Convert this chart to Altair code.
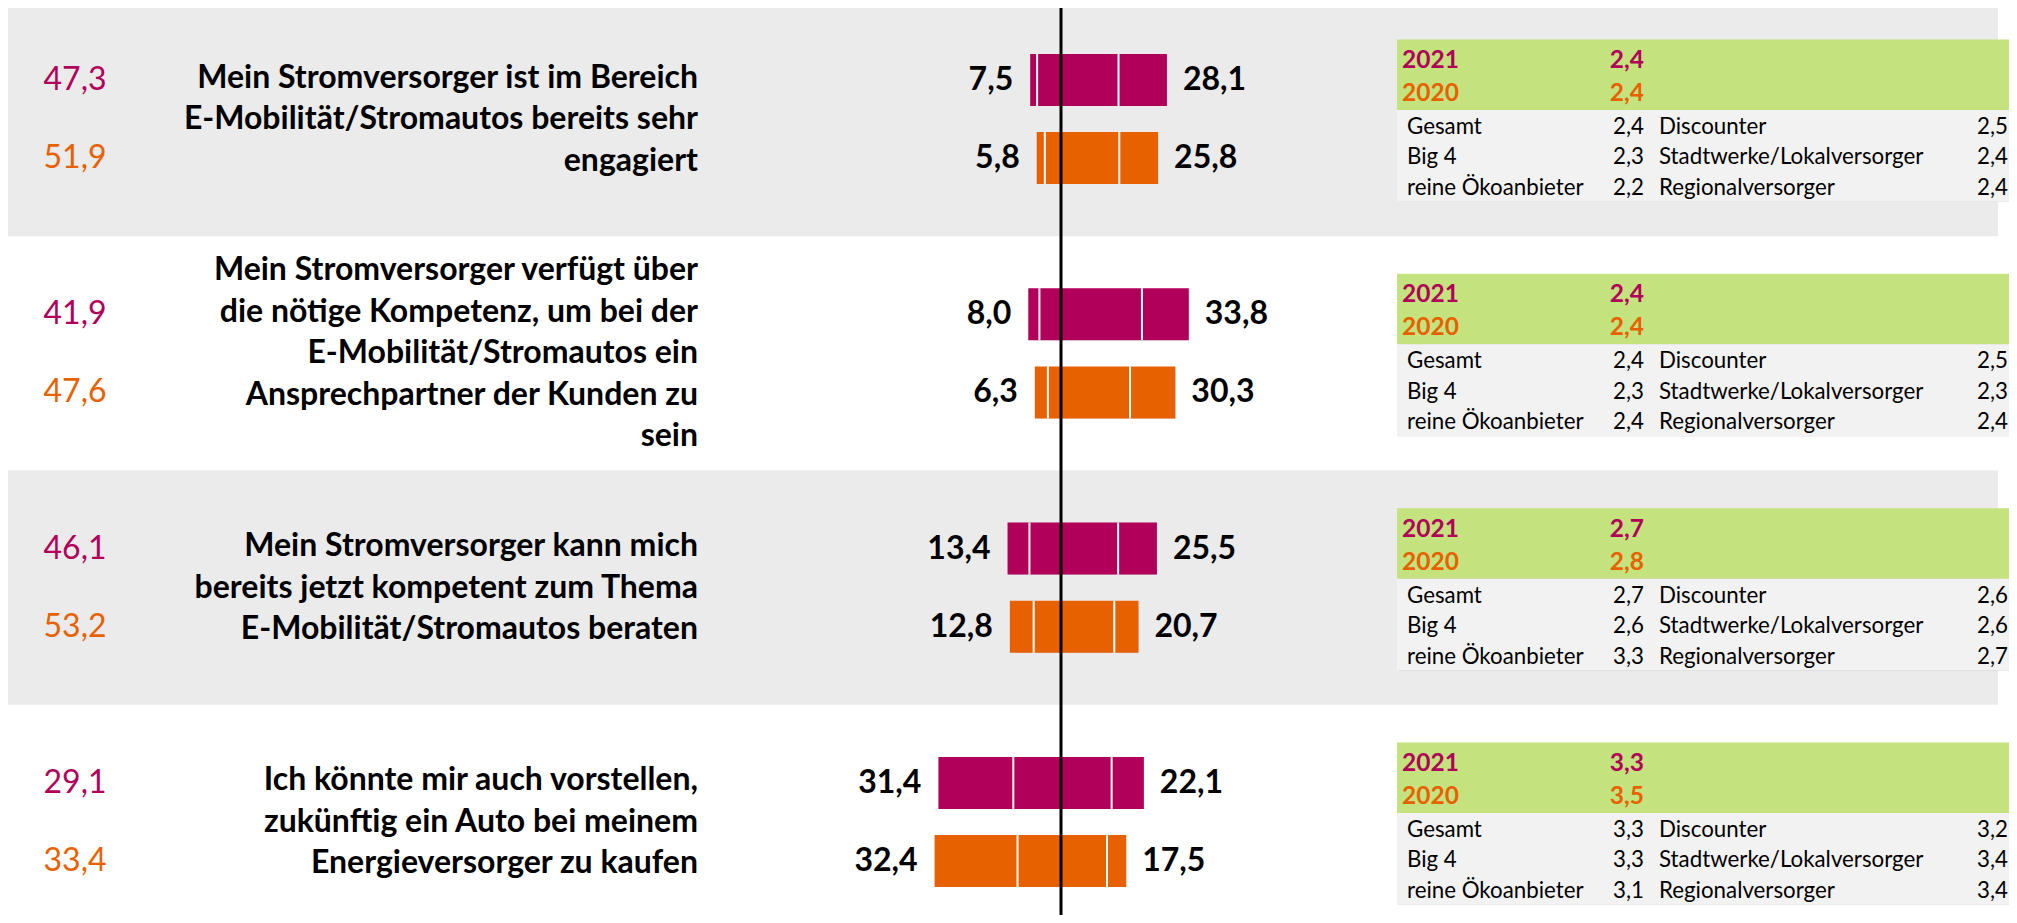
import altair as alt
import pandas as pd

# ---------------- data ----------------
statements = [
    "Mein Stromversorger ist im Bereich\nE-Mobilität/Stromautos bereits sehr\nengagiert",
    "Mein Stromversorger verfügt über\ndie nötige Kompetenz, um bei der\nE-Mobilität/Stromautos ein\nAnsprechpartner der Kunden zu\nsein",
    "Mein Stromversorger kann mich\nbereits jetzt kompetent zum Thema\nE-Mobilität/Stromautos beraten",
    "Ich könnte mir auch vorstellen,\nzukünftig ein Auto bei meinem\nEnergieversorger zu kaufen",
]
years = ["2021", "2020"]
neutral_2021 = [47.3, 41.9, 46.1, 29.1]
neutral_2020 = [51.9, 47.6, 53.2, 33.4]
disagree_2021 = [7.5, 8.0, 13.4, 31.4]
disagree_2020 = [5.8, 6.3, 12.8, 32.4]
agree_2021 = [28.1, 33.8, 25.5, 22.1]
agree_2020 = [25.8, 30.3, 20.7, 17.5]
# outer part of the disagree side / inner part of the agree side
disagree_outer_2021 = [1.8, 2.9, 5.7, 19.5]
disagree_outer_2020 = [2.1, 3.4, 6.2, 21.6]
agree_inner_2021 = [15.5, 21.6, 15.4, 13.7]
agree_inner_2020 = [15.7, 18.5, 14.4, 12.5]
mean_2021 = [2.4, 2.4, 2.7, 3.3]
mean_2020 = [2.4, 2.4, 2.8, 3.5]
groups_left = ["Gesamt", "Big 4", "reine Ökoanbieter"]
groups_right = ["Discounter", "Stadtwerke/Lokalversorger", "Regionalversorger"]
group_means_left = [[2.4, 2.3, 2.2], [2.4, 2.3, 2.4], [2.7, 2.6, 3.3], [3.3, 3.3, 3.1]]
group_means_right = [[2.5, 2.4, 2.4], [2.5, 2.3, 2.4], [2.6, 2.6, 2.7], [3.2, 3.4, 3.4]]

MAGENTA = "#B0005A"
ORANGE = "#E86100"
GREEN = "#C4E37E"
BAND = "#EBEBEB"
TABLE = "#F2F2F2"
FONT = "Lato"


def de(v):
    return f"{v:.1f}".replace(".", ",")


# ---------------- tables ----------------
rows = []
for r in range(4):
    for j, y in enumerate(years):
        neu = [neutral_2021, neutral_2020][j][r]
        dis = [disagree_2021, disagree_2020][j][r]
        agr = [agree_2021, agree_2020][j][r]
        dout = [disagree_outer_2021, disagree_outer_2020][j][r]
        ain = [agree_inner_2021, agree_inner_2020][j][r]
        rows.append(dict(r=r, j=j, year=y, slot=3 * r + j,
                         left=-dis, right=agr, sepL=-(dis - dout), sepR=ain,
                         left_lbl=de(dis), right_lbl=de(agr), neu_lbl=de(neu),
                         mean_lbl=de([mean_2021, mean_2020][j][r])))
bars = pd.DataFrame(rows)

seps = pd.concat([
    bars[["slot", "sepL"]].rename(columns={"sepL": "sep"}),
    bars[["slot", "sepR"]].rename(columns={"sepR": "sep"}),
], ignore_index=True)

stm = pd.DataFrame({"r": list(range(4)), "text": statements,
                    "n": [s.count("\n") + 1 for s in statements]})
bands = pd.DataFrame({"r": [0, 2]})
tables = pd.DataFrame({"r": list(range(4))})
zero_df = pd.DataFrame({"z": [0.0]})
grp_rows = []
for r in range(4):
    for i in range(3):
        grp_rows.append(dict(r=r, i=i, gl=groups_left[i], vl=de(group_means_left[r][i]),
                             gr=groups_right[i], vr=de(group_means_right[r][i])))
grp = pd.DataFrame(grp_rows)

# ---------------- scales ----------------
W, H = 2001, 907
PX = 3.84          # pixels per percentage point
ZERO = 1051        # pixel of the zero point
SLOT = 78.1        # pixels per bar slot
Y0 = 72            # pixel of slot 0
LH = 41.5          # statement line height

xs = alt.Scale(domain=[-ZERO / PX, (W - ZERO) / PX], nice=False, zero=False)
ys = alt.Scale(domain=[-Y0 / SLOT, (H - Y0) / SLOT], nice=False, zero=False, reverse=True)
col = alt.Scale(domain=years, range=[MAGENTA, ORANGE])


def X(f):
    return alt.X(f, type="quantitative", scale=xs, axis=None)


def Y(f):
    return alt.Y(f, type="quantitative", scale=ys, axis=None)


C = alt.Color("year:N", scale=col, legend=None)

band_layer = alt.Chart(bands).transform_calculate(
    y1="3*datum.r-1", y2="3*datum.r+2"
).mark_rect(color=BAND).encode(
    x=alt.value(0), x2=alt.value(1990), y=Y("y1:Q"), y2="y2:Q")

bar_base = alt.Chart(bars).transform_calculate(
    y1="datum.slot-0.333", y2="datum.slot+0.333")
shadow1 = bar_base.mark_rect(color="#000", opacity=0.09, xOffset=5, yOffset=6).encode(
    x=X("left:Q"), x2="right:Q", y=Y("y1:Q"), y2="y2:Q")
shadow2 = bar_base.mark_rect(color="#000", opacity=0.10, xOffset=3, yOffset=4).encode(
    x=X("left:Q"), x2="right:Q", y=Y("y1:Q"), y2="y2:Q")
bar_layer = bar_base.mark_rect().encode(
    x=X("left:Q"), x2="right:Q", y=Y("y1:Q"), y2="y2:Q", color=C)
sep_layer = alt.Chart(seps).transform_calculate(
    y1="datum.slot-0.333", y2="datum.slot+0.333"
).mark_rule(color="white", strokeWidth=2).encode(
    x=X("sep:Q"), y=Y("y1:Q"), y2="y2:Q")

zero_line = alt.Chart(zero_df).mark_rule(color="black", strokeWidth=3, xOffset=2).encode(
    x=X("z:Q"), y=alt.value(0), y2=alt.value(H))

lbl_left = alt.Chart(bars).mark_text(
    align="right", baseline="middle", dx=-17, fontSize=32, fontWeight="bold", font=FONT, color="black"
).encode(x=X("left:Q"), y=Y("slot:Q"), text="left_lbl:N")
lbl_right = alt.Chart(bars).mark_text(
    align="left", baseline="middle", dx=16, fontSize=32, fontWeight="bold", font=FONT, color="black"
).encode(x=X("right:Q"), y=Y("slot:Q"), text="right_lbl:N")

neu_layer = alt.Chart(bars).mark_text(
    align="center", baseline="middle", fontSize=32, font=FONT
).encode(x=alt.value(67), y=Y("slot:Q"), text="neu_lbl:N", color=C)

stm_layer = alt.Chart(stm).transform_calculate(
    first=f"3*datum.r+0.5-(datum.n-1)/2*{LH / SLOT}"
).mark_text(
    align="right", baseline="middle", fontSize=32, fontWeight="bold", font=FONT,
    color="black", lineBreak="\n", lineHeight=LH
).encode(x=alt.value(690), y=Y("first:Q"), text="text:N")

tab_base = alt.Chart(tables).transform_calculate(
    t="3*datum.r-0.518", g="3*datum.r+0.385", b="3*datum.r+1.56")
tab_shadow1 = tab_base.mark_rect(color="#000", opacity=0.10, yOffset=6, xOffset=2).encode(
    x=alt.value(1389), x2=alt.value(2001), y=Y("t:Q"), y2="b:Q")
tab_shadow2 = tab_base.mark_rect(color="#000", opacity=0.12, yOffset=3, xOffset=1).encode(
    x=alt.value(1389), x2=alt.value(2001), y=Y("t:Q"), y2="b:Q")
tab_green = tab_base.mark_rect(color=GREEN).encode(
    x=alt.value(1389), x2=alt.value(2001), y=Y("t:Q"), y2="g:Q")
tab_light = tab_base.mark_rect(color=TABLE).encode(
    x=alt.value(1389), x2=alt.value(2001), y=Y("g:Q"), y2="b:Q")

yr_base = alt.Chart(bars).transform_calculate(ty="3*datum.r-0.243+0.422*datum.j")
yr_lbl = yr_base.mark_text(align="left", baseline="middle", fontSize=24.5, fontWeight="bold", font=FONT).encode(
    x=alt.value(1394), y=Y("ty:Q"), text="year:N", color=C)
yr_val = yr_base.mark_text(align="right", baseline="middle", fontSize=24.5, fontWeight="bold", font=FONT).encode(
    x=alt.value(1636), y=Y("ty:Q"), text="mean_lbl:N", color=C)

g_base = alt.Chart(grp).transform_calculate(ty="3*datum.r+0.602+0.39*datum.i")
g_tx = dict(baseline="middle", fontSize=22.3, font=FONT, color="black")
g1 = g_base.mark_text(align="left", **g_tx).encode(x=alt.value(1399), y=Y("ty:Q"), text="gl:N")
g2 = g_base.mark_text(align="right", **g_tx).encode(x=alt.value(1636), y=Y("ty:Q"), text="vl:N")
g3 = g_base.mark_text(align="left", **g_tx).encode(x=alt.value(1651), y=Y("ty:Q"), text="gr:N")
g4 = g_base.mark_text(align="right", **g_tx).encode(x=alt.value(2000), y=Y("ty:Q"), text="vr:N")

chart = alt.layer(
    band_layer, shadow1, shadow2, bar_layer, sep_layer, zero_line,
    lbl_left, lbl_right, neu_layer, stm_layer,
    tab_shadow1, tab_shadow2, tab_green, tab_light, yr_lbl, yr_val, g1, g2, g3, g4,
).properties(
    width=W, height=H, padding=0, autosize=alt.AutoSizeParams(type="none"), background="white"
).configure_view(strokeWidth=0)

chart.save("out.html", embed_options={"renderer": "svg", "actions": False})
